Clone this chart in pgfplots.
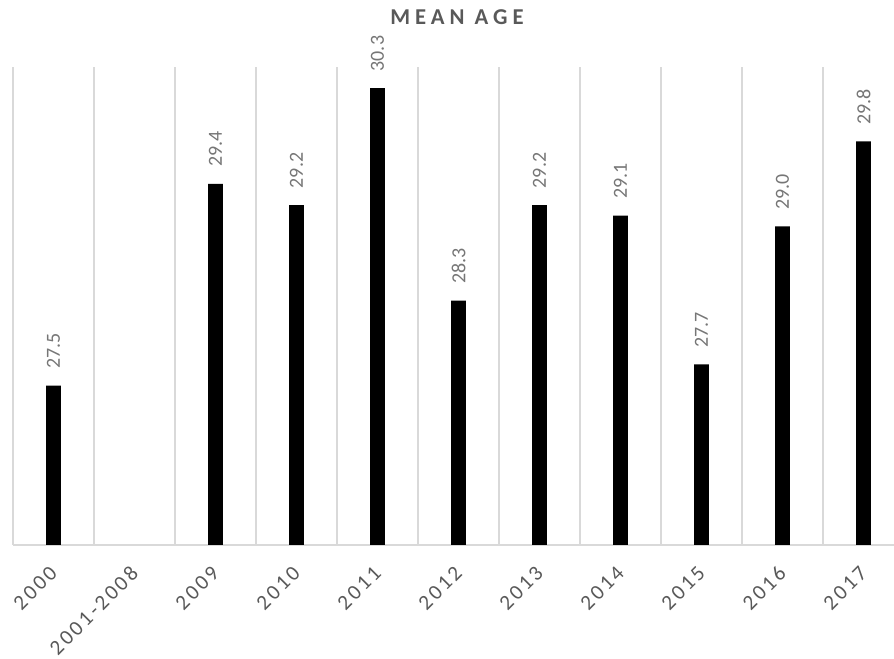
\documentclass[border=0pt]{standalone}
\usepackage{fontspec}
\setmainfont{Carlito}
\usepackage{pgfplots}
\usepackage{pgfplotstable}
\pgfplotsset{compat=1.18}

\definecolor{gridgray}{HTML}{D9D9D9}
\definecolor{labelgray}{HTML}{595959}
\definecolor{valuegray}{HTML}{767676}

% Mean age by year (the 2001-2008 slot has no value)
\pgfplotstableread{
x  age   lbl
0  27.5  27.5
2  29.4  29.4
3  29.2  29.2
4  30.3  30.3
5  28.3  28.3
6  29.2  29.2
7  29.1  29.1
8  27.7  27.7
9  29.0  29.0
10 29.8  29.8
}\agedata

\begin{document}
\begin{tikzpicture}
\begin{axis}[
  at={(0pt,0pt)}, anchor=south west,
  scale only axis,
  width=668.25pt, height=358.5pt,
  xmin=-0.5, xmax=10.5,
  ymin=26, ymax=30.5,
  axis x line=bottom,
  axis y line=none,
  x axis line style={draw=gridgray, line width=0.9pt, -},
  xtick={0,1,...,10},
  xticklabels={2000,2001-2008,2009,2010,2011,2012,2013,2014,2015,2016,2017},
  major tick length=0pt,
  minor tick length=0pt,
  minor xtick={-0.5,0.5,...,10.5},
  xminorgrids=true,
  minor grid style={draw=gridgray, line width=0.9pt},
  xticklabel style={rotate=45, anchor=east, text=labelgray, inner sep=0pt,
    font=\fontsize{16pt}{19pt}\selectfont\addfontfeature{LetterSpace=13}},
  xticklabel shift=18.5pt,
  ybar,
  bar width=11pt,
  nodes near coords,
  point meta=explicit symbolic,
  every node near coord/.append style={rotate=90, anchor=west,
    inner xsep=12.5pt, inner ysep=0pt, text=valuegray,
    font=\fontsize{15pt}{18pt}\selectfont},
]
\addplot[fill=black, draw=none] table[x=x, y=age, meta=lbl] {\agedata};
\end{axis}
\node[text=labelgray, font=\bfseries\fontsize{17pt}{20pt}\selectfont\addfontfeature{LetterSpace=22}]
  at (333pt,395.6pt) {MEAN AGE};
\pgfresetboundingbox
\path[use as bounding box] (-9.75pt,-85.5pt) rectangle (660.75pt,408.75pt);
\end{tikzpicture}
\end{document}
